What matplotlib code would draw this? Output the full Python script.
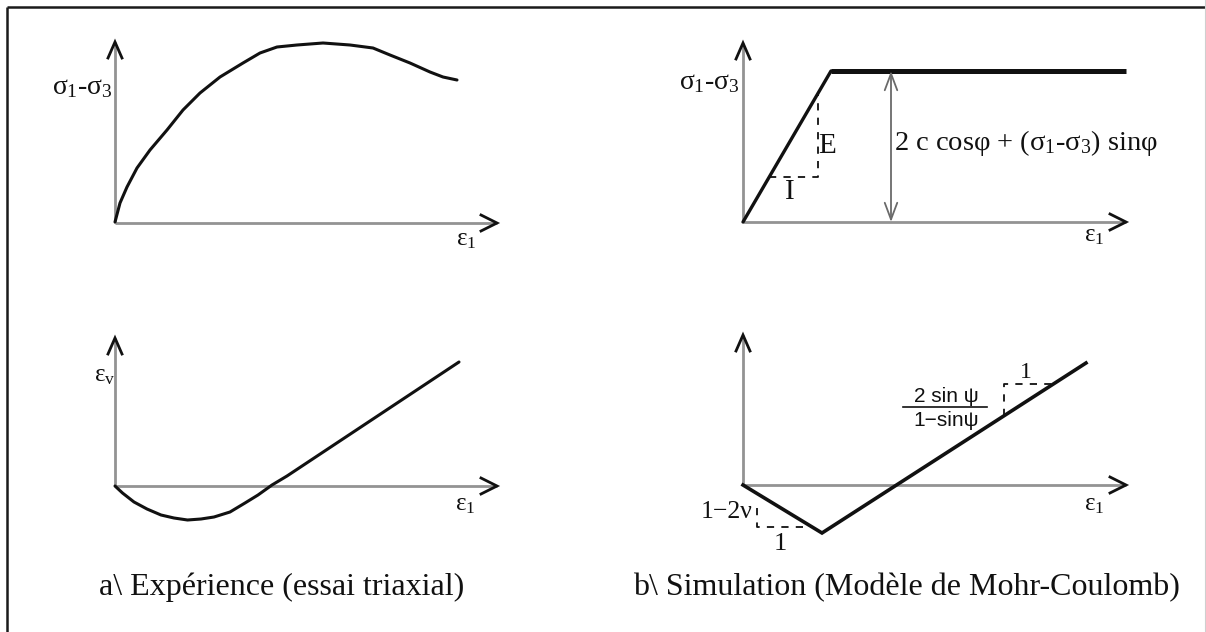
import numpy as np
import matplotlib
matplotlib.use("Agg")
import matplotlib.pyplot as plt
from matplotlib import font_manager

plt.rcParams['font.family'] = ['Liberation Serif', 'DejaVu Serif']
plt.rcParams['mathtext.fontset'] = 'custom'
plt.rcParams['mathtext.rm'] = 'Liberation Serif'
plt.rcParams['mathtext.it'] = 'Liberation Serif'
plt.rcParams['mathtext.bf'] = 'Liberation Serif:bold'

_names = {f.name for f in font_manager.fontManager.ttflist}
SANS = 'Liberation Sans Narrow' if 'Liberation Sans Narrow' in _names else 'Liberation Sans'

# ---------------- data (schematic units) ----------------
# a) triaxial test: deviator stress vs axial strain
exp_eps1 = [0, 5, 12, 22, 35, 52, 68, 85, 105, 128, 145, 162, 182, 208, 235, 258, 275, 295, 315, 328, 342]
exp_q = [1, 20, 36, 55, 73, 93, 113, 130, 146, 160, 170, 176, 178, 180, 178, 175, 168, 160, 151, 146, 143]
# a) triaxial test: volumetric strain vs axial strain
exp_eps1_v = [0, 7.5, 19, 32, 46, 59, 72.5, 86, 99, 115, 130, 143, 157, 172, 344]
exp_epsv = [0, -7, -16, -23, -29, -32, -34, -33, -31, -26, -17, -9, 1, 10, 124]
# b) Mohr-Coulomb: linear elastic then perfectly plastic
mc_eps1 = [0, 88, 383]
mc_q = [0, 151, 151]
# b) Mohr-Coulomb: contraction then constant dilatancy
mc_eps1_v = [0, 79, 343]
mc_epsv = [0, -48, 122]

captions = [r"a\ Expérience (essai triaxial)", r"b\ Simulation (Modèle de Mohr-Coulomb)"]

# ---------------- figure ----------------
W, H = 1206, 632
fig = plt.figure(figsize=(W / 100, H / 100), dpi=100)
ax = fig.add_axes([0, 0, 1, 1])
ax.set_xlim(0, W)
ax.set_ylim(H, 0)
ax.axis('off')

AXIS_C = '#939393'
INK = '#111111'


def to_fig(origin, xs, ys):
    ox, oy = origin
    return ox + np.asarray(xs, float), oy - np.asarray(ys, float)


def draw_axes(origin, xlen, ylen):
    ox, oy = origin
    ax.plot([ox, ox + xlen], [oy, oy], color=AXIS_C, lw=2.0, solid_capstyle='butt', zorder=1)
    ax.plot([ox, ox], [oy, oy - ylen], color=AXIS_C, lw=2.0, solid_capstyle='butt', zorder=1)
    # open arrow heads
    tx, ty = ox + xlen, oy
    ax.plot([tx - 16, tx, tx - 16], [ty - 8, ty, ty + 8], color=INK, lw=2.0,
            solid_joinstyle='miter', zorder=3)
    tx, ty = ox, oy - ylen
    ax.plot([tx - 7, tx, tx + 7], [ty + 16, ty, ty + 16], color=INK, lw=2.0,
            solid_joinstyle='miter', zorder=3)


def label(x, y, s, size, ha='left', va='center', family=None):
    kw = {}
    if family:
        kw['family'] = family
    ax.text(x, y, s, fontsize=size, ha=ha, va=va, color=INK, **kw)


dash = (0, (4, 4))

# ---- a) top: deviator stress ----
O1 = (115, 223)
draw_axes(O1, 382, 181)
ax.plot(*to_fig(O1, exp_eps1, exp_q), color=INK, lw=2.2, zorder=2,
        solid_capstyle='round', solid_joinstyle='round')
label(52, 88, r'$\sigma_1$-$\sigma_3$', 20)
label(456, 240, r'$ε_1$', 18)

# ---- b) top: deviator stress, Mohr-Coulomb ----
O2 = (743, 222)
draw_axes(O2, 383, 179)
x2, y2 = to_fig(O2, mc_eps1, mc_q)
ax.plot(x2[:2], y2[:2], color=INK, lw=2.4, zorder=2, solid_capstyle='round')
ax.plot(x2[1:], y2[1:], color=INK, lw=3.6, zorder=2, solid_capstyle='butt')
# slope triangle for E
slope_E = mc_q[1] / mc_eps1[1]
xE, yI = 74.6, 45
tri_x = [yI / slope_E, xE, xE]
tri_y = [yI, yI, xE * slope_E]
ax.plot(*to_fig(O2, tri_x, tri_y), color=INK, lw=1.3, ls=dash, zorder=2)
label(O2[0] + xE + 1, O2[1] - 76, 'E', 21)
label(O2[0] + 47, O2[1] - 30, 'I', 21, ha='center')
# plateau height arrow
xa = 148
ax.annotate('', xy=(O2[0] + xa, O2[1] - mc_q[1]), xytext=(O2[0] + xa, O2[1]),
            arrowprops=dict(arrowstyle='<->,head_length=1.2,head_width=0.45',
                            color='#6a6a6a', lw=1.3, shrinkA=0, shrinkB=0))
label(894, 143, r'2 c cosφ + ($\sigma_1$-$\sigma_3$) sinφ', 20.5)
label(679, 83, r'$\sigma_1$-$\sigma_3$', 20)
label(1084, 236, r'$ε_1$', 18)

# ---- a) bottom: volumetric strain ----
O3 = (115, 486)
draw_axes(O3, 382, 148)
ax.plot(*to_fig(O3, exp_eps1_v, exp_epsv), color=INK, lw=2.2, zorder=2,
        solid_capstyle='round', solid_joinstyle='round')
label(94, 376, r'$ε_\mathrm{v}$', 18)
label(455, 505, r'$ε_1$', 18)

# ---- b) bottom: volumetric strain, Mohr-Coulomb ----
O4 = (743, 485)
draw_axes(O4, 383, 150)
ax.plot(*to_fig(O4, mc_eps1_v, mc_epsv), color=INK, lw=2.6, zorder=2,
        solid_joinstyle='miter')
# contraction slope triangle
s1 = mc_epsv[1] / mc_eps1_v[1]
yl = -42
ax.plot(*to_fig(O4, [14, 14, yl / s1], [-23, yl, yl]), color=INK, lw=1.3, ls=dash, zorder=2)
label(753, 512, '1−2ν', 18.5, ha='right')
label(780, 544, '1', 19, ha='center')
# dilatancy slope triangle
s2 = (mc_epsv[2] - mc_epsv[1]) / (mc_eps1_v[2] - mc_eps1_v[1])
xv, yh = 261, 101
y_on = mc_epsv[1] + (xv - mc_eps1_v[1]) * s2
x_on = mc_eps1_v[1] + (yh - mc_epsv[1]) / s2
ax.plot(*to_fig(O4, [xv, xv, x_on], [y_on, yh, yh]), color=INK, lw=1.3, ls=dash, zorder=2)
label(1026, 373, '1', 17, ha='center')
label(946, 396, '2 sin ψ', 15, ha='center', family=SANS)
label(946, 421, '1−sinψ', 15, ha='center', family=SANS)
ax.plot([903, 987], [407, 407], color=INK, lw=1.2)
label(1084, 505, r'$ε_1$', 18)

# ---- captions ----
ax.text(99, 595, captions[0], fontsize=23, ha='left', va='baseline', color=INK)
ax.text(633, 595, captions[1], fontsize=23, ha='left', va='baseline', color=INK)

# ---- frame ----
ax.plot([7, W], [7, 7], color='#1a1a1a', lw=1.8, solid_capstyle='butt')
ax.plot([7, 7], [7, H], color='#1a1a1a', lw=1.8, solid_capstyle='butt')
ax.plot([W - 1.5, W - 1.5], [0, H], color='#cfcfcf', lw=0.8)

fig.savefig('out.png', dpi=100)
